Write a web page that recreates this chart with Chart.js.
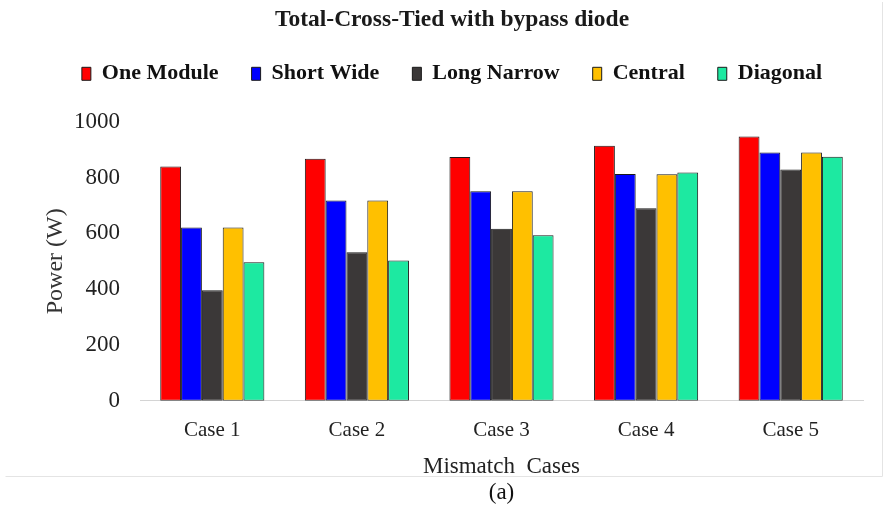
<!DOCTYPE html>
<html>
<head>
<meta charset="utf-8">
<title>Total-Cross-Tied with bypass diode</title>
<script src="https://cdn.jsdelivr.net/npm/chart.js@4.4.1/dist/chart.umd.min.js"></script>
<style>
  html, body { margin: 0; padding: 0; background: #ffffff; }
  #wrap { width: 885px; height: 510px; position: relative; }
</style>
</head>
<body>
<div id="wrap"><canvas id="tctChart" width="885" height="510"></canvas></div>
<script>
// mismatch cases on the x axis
var cases = ['Case 1', 'Case 2', 'Case 3', 'Case 4', 'Case 5'];

// power (W) per shading pattern
var oneModule  = [840, 868, 874, 914, 947];
var shortWide  = [621, 718, 751, 813, 890];
var longNarrow = [396, 532, 617, 690, 829];
var central    = [621, 718, 751, 812, 890];
var diagonal   = [497, 503, 593, 818, 875];

var yTicks = [0, 200, 400, 600, 800, 1000];

var serif = "'Liberation Serif', 'Times New Roman', serif";

// light frame round the figure, "(a)" caption below it
var framePlugin = {
    id: 'frame',
    beforeDraw: function (chart) {
        var ctx = chart.ctx;
        ctx.save();
        ctx.strokeStyle = '#e4e4e4';
        ctx.lineWidth = 1;
        ctx.beginPath();
        ctx.moveTo(5.5, 476.5);
        ctx.lineTo(882.5, 476.5);
        ctx.lineTo(882.5, 2);
        ctx.stroke();
        ctx.restore();
    },
    afterDraw: function (chart) {
        var ctx = chart.ctx;
        var area = chart.chartArea;
        ctx.save();
        ctx.fillStyle = '#111111';
        ctx.font = '23px ' + serif;
        ctx.textAlign = 'center';
        ctx.textBaseline = 'middle';
        ctx.fillText('(a)', (area.left + area.right) / 2, 493);
        ctx.restore();
    }
};

// extra room between legend and plot
var legendGap = {
    id: 'legendGap',
    beforeInit: function (chart) {
        var origFit = chart.legend.fit;
        chart.legend.fit = function () {
            origFit.bind(chart.legend)();
            this.height += 27;
        };
    }
};

function series(label, data, color) {
    return {
        label: label,
        data: data,
        backgroundColor: color,
        borderColor: '#1a1a1a',
        borderWidth: 1,
        borderSkipped: false,
        categoryPercentage: 0.72,
        barPercentage: 1.0
    };
}

new Chart(document.getElementById('tctChart'), {
    type: 'bar',
    data: {
        labels: cases,
        datasets: [
            series('One Module', oneModule, '#ff0000'),
            series('Short Wide', shortWide, '#0000ff'),
            series('Long Narrow', longNarrow, '#3b3838'),
            series('Central', central, '#ffc000'),
            series('Diagonal', diagonal, '#1de9a1')
        ]
    },
    options: {
        responsive: false,
        animation: false,
        layout: {
            padding: { left: 41, right: 22, top: 0, bottom: 32 }
        },
        plugins: {
            title: {
                display: true,
                text: 'Total-Cross-Tied with bypass diode',
                color: '#1a1a1a',
                font: { family: serif, size: 23.5, weight: 'bold', lineHeight: 0.8 },
                padding: { top: 11, bottom: 0 }
            },
            legend: {
                position: 'top',
                labels: {
                    color: '#111111',
                    font: { family: serif, size: 22, weight: 'bold' },
                    boxWidth: 9,
                    boxHeight: 13,
                    padding: 33
                }
            },
            tooltip: { enabled: false }
        },
        scales: {
            x: {
                grid: { display: false, drawTicks: false },
                border: { display: true, color: '#d4d4d4', width: 1 },
                ticks: {
                    color: '#222222',
                    font: { family: serif, size: 21 },
                    padding: 17
                },
                title: {
                    display: true,
                    text: 'Mismatch  Cases',
                    color: '#222222',
                    font: { family: serif, size: 23, lineHeight: 1.0 },
                    padding: { top: -5, bottom: 0 }
                }
            },
            y: {
                min: 0,
                max: 1000,
                afterBuildTicks: function (axis) {
                    axis.ticks = yTicks.map(function (v) { return { value: v }; });
                },
                afterFit: function (axis) {
                    axis.width = 99;
                },
                grid: { display: false, drawTicks: false },
                border: { display: false },
                ticks: {
                    color: '#222222',
                    font: { family: serif, size: 23 },
                    padding: 20,
                    callback: function (value) { return String(value); }
                },
                title: {
                    display: true,
                    text: 'Power (W)',
                    color: '#333333',
                    font: { family: serif, size: 24 },
                    padding: { top: 0, bottom: 0 }
                }
            }
        }
    },
    plugins: [framePlugin, legendGap]
});
</script>
</body>
</html>
